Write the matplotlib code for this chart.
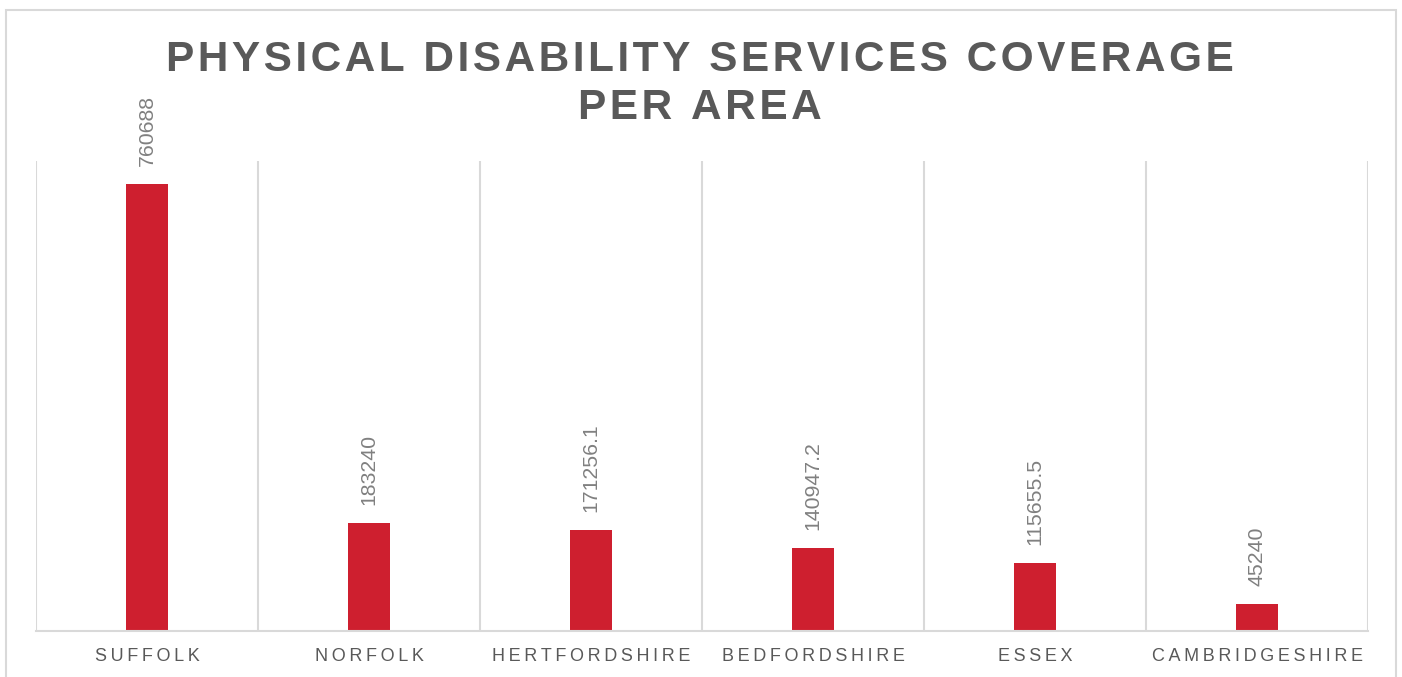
import matplotlib.pyplot as plt
from matplotlib.patches import Rectangle
from matplotlib.ticker import FixedLocator

# coverage values per area
areas = ["SUFFOLK", "NORFOLK", "HERTFORDSHIRE", "BEDFORDSHIRE", "ESSEX", "CAMBRIDGESHIRE"]
coverage = [760688, 183240, 171256.1, 140947.2, 115655.5, 45240]
value_labels = ["760688", "183240", "171256.1", "140947.2", "115655.5", "45240"]
title_lines = ["PHYSICAL DISABILITY SERVICES COVERAGE", "PER AREA"]

bar_col = "#CE1F2F"
grey_txt = "#595959"
lbl_col = "#808080"
line_col = "#D9D9D9"

plt.rcParams['font.family'] = ['Liberation Sans', 'DejaVu Sans']

def spaced(s, sep="\u2009"):
    # fake letter spacing
    return sep.join(s)

fig = plt.figure(figsize=(14.02, 6.77), dpi=100)
ax = fig.add_axes([36/1402, 46/677, 1332/1402, 470/677])

x = range(len(areas))
ax.bar(x, coverage, width=0.185, color=bar_col, zorder=3)

for i, v in enumerate(coverage):
    ax.annotate(value_labels[i], (i, v), xytext=(0, 13), textcoords="offset points",
                rotation=90, ha="center", va="bottom", fontsize=15.3, color=lbl_col)

ax.set_xlim(-0.5, len(areas) - 0.5)
ax.set_ylim(0, 800000)
ax.set_yticks([])
ax.set_xticks(list(x))
ax.set_xticklabels([spaced(a) for a in areas], fontsize=13, color=grey_txt)
ax.tick_params(axis="x", length=0, pad=12)
ax.xaxis.set_minor_locator(FixedLocator([i - 0.5 for i in range(len(areas) + 1)]))
ax.tick_params(axis="x", which="minor", length=0)
ax.grid(True, which="minor", axis="x", color=line_col, lw=1.5, zorder=0)
ax.grid(False, which="major")

for s in ["left", "right", "top"]:
    ax.spines[s].set_visible(False)
ax.spines["bottom"].set_color(line_col)
ax.spines["bottom"].set_linewidth(1.5)
ax.spines["bottom"].set_zorder(4)

# two title lines, baselines placed separately
for line, base in zip(title_lines, [71, 119]):
    fig.text(0.4993, 1 - base/677, spaced(line, "\u200a"), ha="center", va="baseline",
             fontsize=30.5, fontweight="bold", color=grey_txt)

# outer chart frame
fig.patches.append(Rectangle((6/1402, -0.05), 1390/1402, 1.05 - 10/677,
                             transform=fig.transFigure, fill=False,
                             edgecolor=line_col, lw=1.5))

fig.savefig("out.png", dpi=100)
